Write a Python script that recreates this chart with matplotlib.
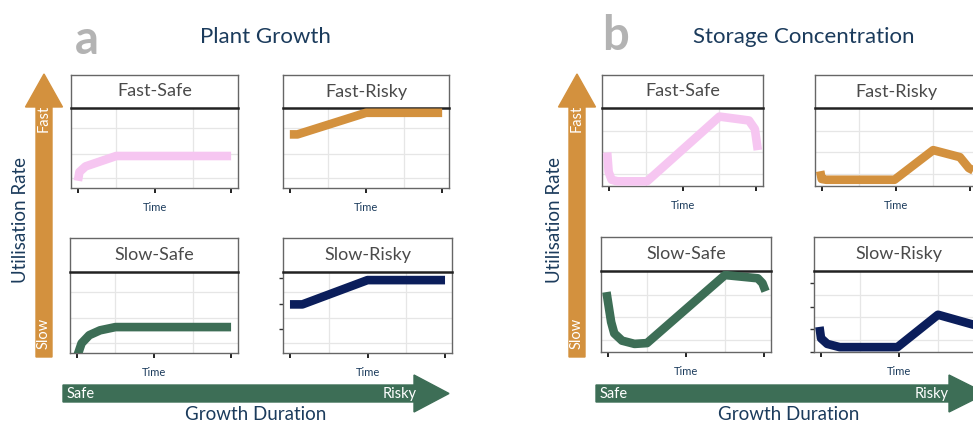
import matplotlib
matplotlib.use('Agg')
import matplotlib.pyplot as plt
from matplotlib.patches import Polygon

plt.rcParams['font.family'] = ['Lato', 'DejaVu Sans']

# --- curves (time scaled 0..1, response scaled 0..1) ---
growth_fast_safe_t = [0.0, 0.01, 0.05, 0.25, 1.0]
growth_fast_safe_y = [0.09, 0.20, 0.27, 0.40, 0.40]
growth_fast_risky_t = [0.0, 0.05, 0.5, 1.0]
growth_fast_risky_y = [0.67, 0.67, 0.94, 0.94]
growth_slow_safe_t = [0.0, 0.03, 0.08, 0.15, 0.25, 1.0]
growth_slow_safe_y = [-0.05, 0.12, 0.22, 0.28, 0.32, 0.32]
growth_slow_risky_t = [0.0, 0.08, 0.5, 1.0]
growth_slow_risky_y = [0.60, 0.60, 0.90, 0.90]

storage_fast_safe_t = [-0.01, 0.0, 0.02, 0.06, 0.26, 0.75, 0.95, 0.99, 1.01]
storage_fast_safe_y = [0.43, 0.18, 0.08, 0.06, 0.06, 0.89, 0.84, 0.73, 0.46]
storage_fast_risky_t = [-0.01, 0.0, 0.03, 0.49, 0.75, 0.93, 0.99, 1.02]
storage_fast_risky_y = [0.19, 0.09, 0.08, 0.08, 0.46, 0.37, 0.23, 0.20]
storage_slow_safe_t = [-0.01, 0.02, 0.04, 0.09, 0.17, 0.25, 0.75, 0.96, 0.99, 1.01]
storage_slow_safe_y = [0.74, 0.37, 0.23, 0.14, 0.10, 0.11, 0.95, 0.91, 0.85, 0.75]
storage_slow_risky_t = [-0.01, 0.0, 0.04, 0.12, 0.49, 0.75, 0.99, 1.03]
storage_slow_risky_y = [0.31, 0.17, 0.10, 0.06, 0.06, 0.46, 0.33, 0.20]

time_ticks = [0, 0.5, 1]
time_grid = [0.25, 0.75]
growth_grid_y = [0.12, 0.43, 0.75]
growth_ticks_y = [0.30, 0.61, 0.93]
storage_grid_y = [0.15, 0.43, 0.70]
storage_ticks_y = [0.0, 0.28, 0.56, 0.85]

PINK = '#F6C6F1'
ORANGE = '#D3913E'
GREEN = '#3D6E56'
NAVY = '#0B1E5B'
TEXT_NAVY = '#1B3B5C'
GREY_LETTER = '#B3B3B3'

W, H = 973, 425
fig = plt.figure(figsize=(W / 100, H / 100), dpi=100)


def rect(x0, y0, x1, y1):
    return [x0 / W, 1 - y1 / H, (x1 - x0) / W, (y1 - y0) / H]


def fx(x):
    return x / W


def fy(y):
    return 1 - y / H


def facet(box, strip_y, title, t, y, color, grid_y, yticks=None):
    x0, y0, x1, y1 = box
    sax = fig.add_axes(rect(x0, y0, x1, strip_y))
    sax.set_xticks([]); sax.set_yticks([])
    for s in sax.spines.values():
        s.set_color('#666666'); s.set_linewidth(1.0)
    sax.spines['bottom'].set_visible(False)
    sax.text(0.5, 0.5, title, ha='center', va='center', fontsize=13,
             color='#4A4A4A', transform=sax.transAxes)

    ax = fig.add_axes(rect(x0, strip_y, x1, y1))
    ax.plot(t, y, color=color, lw=6.2, solid_capstyle='butt',
            solid_joinstyle='round', zorder=3)
    ax.set_xlim(-0.045, 1.045)
    ax.set_ylim(0, 1)
    ax.set_xticks(time_ticks)
    ax.set_xticklabels([])
    ax.set_xticks(time_grid, minor=True)
    ax.set_yticks(grid_y, minor=True)
    if yticks is None:
        ax.set_yticks([])
    else:
        ax.set_yticks(yticks)
        ax.set_yticklabels([])
        ax.tick_params(axis='y', which='major', length=3, width=1, color='#333333')
    ax.tick_params(axis='x', which='major', length=3.5, width=1.4, color='#222222')
    ax.tick_params(which='minor', length=0)
    ax.grid(which='minor', color='#E6E6E6', lw=0.9)
    for s in ax.spines.values():
        s.set_color('#666666'); s.set_linewidth(1.0)
    ax.spines['top'].set_color('#222222')
    ax.spines['top'].set_linewidth(1.8)
    ax.set_xlabel('Time', color=TEXT_NAVY, fontsize=8, labelpad=3)
    return ax


def varrow(xc, tip, base, bottom, shaft_w, head_w, color):
    pts = [(xc - shaft_w / 2, bottom), (xc + shaft_w / 2, bottom),
           (xc + shaft_w / 2, base), (xc + head_w / 2, base), (xc, tip),
           (xc - head_w / 2, base), (xc - shaft_w / 2, base)]
    fig.patches.append(Polygon([(fx(a), fy(b)) for a, b in pts], closed=True,
                               color=color, transform=fig.transFigure, zorder=1))


def harrow(left, base, tip, yc, shaft_h, head_h, color):
    pts = [(left, yc - shaft_h / 2), (base, yc - shaft_h / 2),
           (base, yc - head_h / 2), (tip, yc), (base, yc + head_h / 2),
           (base, yc + shaft_h / 2), (left, yc + shaft_h / 2)]
    fig.patches.append(Polygon([(fx(a), fy(b)) for a, b in pts], closed=True,
                               color=color, transform=fig.transFigure, zorder=1))


def label(x, y, s, **kw):
    fig.text(fx(x), fy(y), s, zorder=5, **kw)


# ---------------- panel a: plant growth ----------------
label(75, 40, 'a', fontsize=34, fontweight='bold', color=GREY_LETTER,
      ha='left', va='center')
label(265, 37, 'Plant Growth', fontsize=16, color=TEXT_NAVY,
      ha='center', va='center')

facet((71, 75, 238, 188), 108, 'Fast-Safe', growth_fast_safe_t,
      growth_fast_safe_y, PINK, growth_grid_y)
facet((283, 75, 449, 188), 108, 'Fast-Risky', growth_fast_risky_t,
      growth_fast_risky_y, ORANGE, growth_grid_y)
facet((70, 238, 238, 353), 272, 'Slow-Safe', growth_slow_safe_t,
      growth_slow_safe_y, GREEN, growth_grid_y)
facet((283, 238, 452, 353), 272, 'Slow-Risky', growth_slow_risky_t,
      growth_slow_risky_y, NAVY, growth_grid_y, yticks=growth_ticks_y)

varrow(44, 74, 107, 357, 16, 37, ORANGE)
label(44, 118, 'Fast', rotation=90, color='white', fontsize=10.5,
      ha='center', va='center')
label(44, 333, 'Slow', rotation=90, color='white', fontsize=10.5,
      ha='center', va='center')
label(21, 220, 'Utilisation Rate', rotation=90, color=TEXT_NAVY,
      fontsize=13.5, ha='center', va='center')

harrow(63, 414, 449, 393.5, 17, 37, GREEN)
label(67, 394, 'Safe', color='white', fontsize=10.5, ha='left', va='center')
label(417, 394, 'Risky', color='white', fontsize=10.5, ha='right', va='center')
label(256, 415, 'Growth Duration', color=TEXT_NAVY, fontsize=13.5,
      ha='center', va='center')

# ---------------- panel b: storage concentration ----------------
label(602, 36, 'b', fontsize=34, fontweight='bold', color=GREY_LETTER,
      ha='left', va='center')
label(804, 37, 'Storage Concentration', fontsize=16, color=TEXT_NAVY,
      ha='center', va='center')

facet((602, 75, 763, 186), 108, 'Fast-Safe', storage_fast_safe_t,
      storage_fast_safe_y, PINK, storage_grid_y)
facet((815, 75, 977, 186), 108, 'Fast-Risky', storage_fast_risky_t,
      storage_fast_risky_y, ORANGE, storage_grid_y)
facet((601, 237, 771, 352), 271, 'Slow-Safe', storage_slow_safe_t,
      storage_slow_safe_y, GREEN, storage_grid_y)
facet((814, 237, 984, 352), 271, 'Slow-Risky', storage_slow_risky_t,
      storage_slow_risky_y, NAVY, storage_grid_y, yticks=storage_ticks_y)

varrow(577, 74, 107, 357, 16, 37, ORANGE)
label(577, 118, 'Fast', rotation=90, color='white', fontsize=10.5,
      ha='center', va='center')
label(577, 333, 'Slow', rotation=90, color='white', fontsize=10.5,
      ha='center', va='center')
label(554, 220, 'Utilisation Rate', rotation=90, color=TEXT_NAVY,
      fontsize=13.5, ha='center', va='center')

harrow(596, 949, 986, 393.5, 17, 37, GREEN)
label(600, 394, 'Safe', color='white', fontsize=10.5, ha='left', va='center')
label(949, 394, 'Risky', color='white', fontsize=10.5, ha='right', va='center')
label(789, 415, 'Growth Duration', color=TEXT_NAVY, fontsize=13.5,
      ha='center', va='center')

fig.savefig('out.png', dpi=100)
